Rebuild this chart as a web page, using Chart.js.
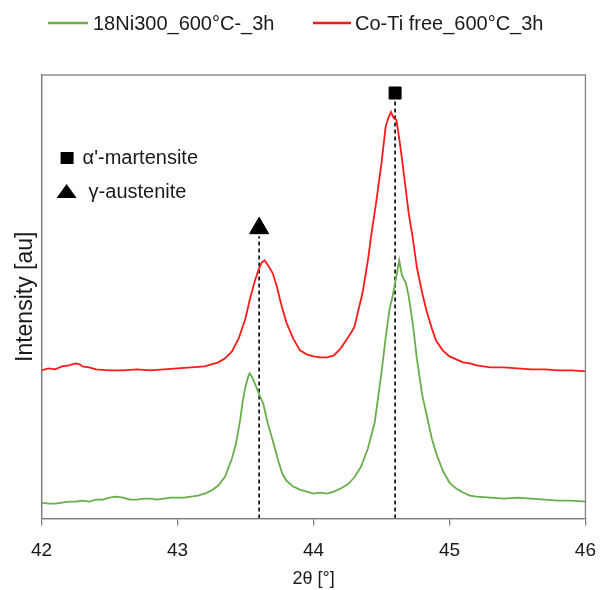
<!DOCTYPE html>
<html>
<head>
<meta charset="utf-8">
<script src="https://cdn.jsdelivr.net/npm/chart.js@4"></script>
<style>
  html, body { margin: 0; padding: 0; background: #fff; }
  #wrap { width: 610px; height: 590px; }
</style>
</head>
<body>
<div id="wrap"><canvas id="xrdChart" width="610" height="590"></canvas></div>
<script>
// 2theta positions and intensities (arbitrary units)
const ni300Angle = [42.0, 42.05, 42.1, 42.15, 42.2, 42.25, 42.3, 42.35, 42.4, 42.45, 42.5, 42.55, 42.6, 42.65, 42.7, 42.75, 42.8, 42.85, 42.9, 42.95,
  43.0, 43.05, 43.1, 43.15, 43.2, 43.25, 43.3, 43.35, 43.4, 43.43, 43.46, 43.48, 43.5, 43.52, 43.53, 43.55, 43.58, 43.6, 43.63, 43.66,
  43.7, 43.74, 43.77, 43.8, 43.85, 43.9, 43.95, 44.0, 44.05, 44.1, 44.15, 44.2, 44.25, 44.3, 44.35, 44.4, 44.45, 44.5, 44.53, 44.56,
  44.58, 44.6, 44.62, 44.63, 44.65, 44.68, 44.7, 44.73, 44.76, 44.8, 44.83, 44.87, 44.9, 44.95, 45.0, 45.05, 45.1, 45.15, 45.2, 45.3,
  45.4, 45.5, 45.6, 45.7, 45.8, 45.9, 46.0];
const ni300Intensity = [16, 15, 15, 16, 17, 17, 18, 17, 19, 19, 21, 22, 21, 19, 19, 20, 20, 19, 20, 21,
  21, 21, 22, 23, 25, 28, 33, 42, 60, 75, 98, 118, 132, 142, 145, 141, 131, 124, 115, 97,
  78, 58, 45, 38, 32, 29, 27, 25, 26, 25, 27, 30, 34, 41, 52, 70, 96, 146, 180, 210,
  221, 235, 250, 258, 243, 235, 222, 195, 160, 123, 105, 80, 66, 48, 36, 30, 26, 23, 22, 21,
  20, 21, 20, 19, 18, 18, 17];

const coTiAngle = [42.0, 42.05, 42.1, 42.15, 42.2, 42.25, 42.28, 42.3, 42.35, 42.4, 42.5, 42.6, 42.7, 42.8, 42.9, 43.0, 43.1, 43.2, 43.3, 43.35,
  43.4, 43.45, 43.5, 43.53, 43.57, 43.6, 43.62, 43.64, 43.67, 43.7, 43.73, 43.76, 43.8, 43.85, 43.9, 43.95, 44.0, 44.05, 44.1, 44.15,
  44.2, 44.25, 44.3, 44.33, 44.36, 44.4, 44.43, 44.46, 44.5, 44.53, 44.55, 44.57, 44.59, 44.61, 44.63, 44.65, 44.7, 44.73, 44.76, 44.8,
  44.83, 44.87, 44.9, 44.95, 45.0, 45.05, 45.1, 45.15, 45.2, 45.3, 45.4, 45.5, 45.6, 45.7, 45.8, 45.9, 46.0];
const coTiIntensity = [148, 150, 149, 152, 153, 155, 154, 152, 151, 149, 148, 148, 149, 148, 149, 150, 151, 152, 156, 160,
  167, 180, 200, 218, 238, 250, 256, 258, 252, 245, 232, 215, 196, 180, 168, 164, 162, 161, 161, 163,
  170, 180, 191, 208, 225, 258, 288, 315, 355, 391, 400, 406, 400, 398, 380, 360, 305, 280, 251, 225,
  208, 190, 178, 168, 162, 159, 156, 155, 153, 151, 151, 150, 149, 149, 148, 148, 147];

// reference peak positions and marker heights
const peakAngle = [43.6, 44.6];
const peakLineTop = [282, 418];
const peakMarkerY = [290, 425];

const seriesNames = ['18Ni300_600°C-_3h', 'Co-Ti free_600°C_3h'];
const phaseNames = ["α'-martensite", 'γ-austenite'];
const xTicks = [42, 43, 44, 45, 46];

function toPoints(xs, ys) {
  return xs.map((x, i) => ({ x: x, y: ys[i] }));
}

const FONT = '"Liberation Sans", Arial, sans-serif';

// box round the plot, series legend on top and phase key in the upper left
const decorations = {
  id: 'decorations',
  afterDraw(chart) {
    const ctx = chart.ctx;
    const a = chart.chartArea;
    ctx.save();
    ctx.strokeStyle = '#808080';
    ctx.lineWidth = 1.3;
    ctx.strokeRect(a.left, a.top, a.right - a.left, a.bottom - a.top);

    // series legend
    ctx.font = '20px ' + FONT;
    ctx.textBaseline = 'middle';
    const items = [
      { x0: 48, x1: 88, tx: 93 },
      { x0: 313, x1: 351, tx: 355 }
    ];
    items.forEach((it, i) => {
      const ds = chart.data.datasets[i];
      ctx.strokeStyle = ds.borderColor;
      ctx.lineWidth = 2.5;
      ctx.beginPath();
      ctx.moveTo(it.x0, 23);
      ctx.lineTo(it.x1, 23);
      ctx.stroke();
      ctx.fillStyle = '#1a1a1a';
      ctx.fillText(ds.label, it.tx, 24);
    });

    // phase key
    ctx.fillStyle = '#000';
    ctx.fillRect(a.left + 19, 152, 13, 12);
    ctx.beginPath();
    ctx.moveTo(a.left + 15, 198);
    ctx.lineTo(a.left + 35, 198);
    ctx.lineTo(a.left + 25, 184);
    ctx.closePath();
    ctx.fill();

    ctx.fillStyle = '#1a1a1a';
    ctx.fillText(phaseNames[0], a.left + 41, 158);
    ctx.fillText(phaseNames[1], a.left + 47, 192);
    ctx.restore();
  }
};

const ctx = document.getElementById('xrdChart').getContext('2d');
new Chart(ctx, {
  type: 'line',
  data: {
    datasets: [
      {
        label: seriesNames[0],
        data: toPoints(ni300Angle, ni300Intensity),
        borderColor: '#6aad4c',
        borderWidth: 1.8,
        pointRadius: 0,
        tension: 0
      },
      {
        label: seriesNames[1],
        data: toPoints(coTiAngle, coTiIntensity),
        borderColor: '#ff1a1a',
        borderWidth: 1.8,
        pointRadius: 0,
        tension: 0
      },
      {
        label: 'peak1',
        data: [{ x: peakAngle[0], y: 0 }, { x: peakAngle[0], y: peakLineTop[0] }],
        borderColor: '#000',
        borderWidth: 1.6,
        borderDash: [4, 3],
        pointRadius: 0
      },
      {
        label: 'peak2',
        data: [{ x: peakAngle[1], y: 0 }, { x: peakAngle[1], y: peakLineTop[1] }],
        borderColor: '#000',
        borderWidth: 1.6,
        borderDash: [4, 3],
        pointRadius: 0
      },
      {
        label: 'markers',
        data: [{ x: peakAngle[0], y: peakMarkerY[0] }, { x: peakAngle[1], y: peakMarkerY[1] }],
        showLine: false,
        pointStyle: ['triangle', 'rect'],
        pointRadius: [11, 8.5],
        backgroundColor: '#000',
        borderColor: '#000'
      }
    ]
  },
  options: {
    responsive: false,
    animation: false,
    layout: { padding: { left: 11, right: 19, top: 75, bottom: 0 } },
    plugins: {
      legend: { display: false },
      tooltip: { enabled: false }
    },
    scales: {
      x: {
        type: 'linear',
        min: xTicks[0],
        max: xTicks[xTicks.length - 1],
        afterBuildTicks: axis => { axis.ticks = xTicks.map(v => ({ value: v })); },
        grid: { drawOnChartArea: false, tickLength: 7, color: '#808080', lineWidth: 1.3 },
        border: { color: '#808080', width: 1.3 },
        ticks: { color: '#1a1a1a', font: { family: FONT, size: 19 }, padding: 14, maxRotation: 0 },
        title: { display: true, text: '2θ [°]', color: '#1a1a1a', font: { family: FONT, size: 18 }, padding: { top: -8, bottom: 0 } }
      },
      y: {
        min: 0,
        max: 443,
        ticks: { display: false },
        grid: { display: false },
        border: { color: '#808080', width: 1.3 },
        title: { display: true, text: 'Intensity [au]', color: '#1a1a1a', font: { family: FONT, size: 23 }, padding: { top: 1, bottom: -6 } }
      }
    }
  },
  plugins: [decorations]
});
</script>
</body>
</html>
